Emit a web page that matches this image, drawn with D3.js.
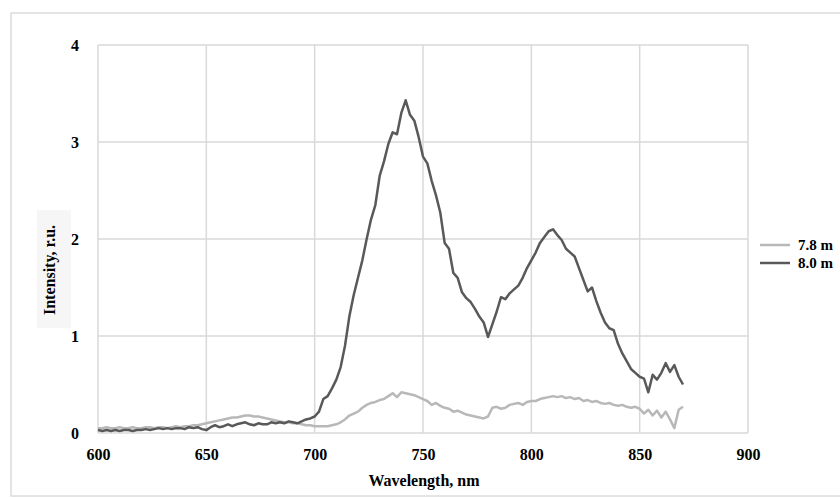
<!DOCTYPE html>
<html><head><meta charset="utf-8">
<script src="https://cdn.jsdelivr.net/npm/d3@7"></script>
<style>body{margin:0;background:#fff}svg{display:block}</style>
</head><body>
<svg id="c" width="840" height="498"></svg>
<script>
const wavelengths = d3.range(600, 871, 2);
const series78 = [0.05,0.05,0.06,0.05,0.05,0.06,0.05,0.05,0.06,0.05,0.05,0.06,0.06,0.05,0.06,0.06,0.05,0.06,0.07,0.06,0.07,0.07,0.08,0.08,0.09,0.10,0.11,0.12,0.13,0.14,0.15,0.16,0.16,0.17,0.18,0.18,0.17,0.17,0.16,0.15,0.14,0.13,0.12,0.11,0.11,0.10,0.10,0.09,0.08,0.08,0.07,0.07,0.07,0.07,0.08,0.09,0.11,0.14,0.18,0.20,0.22,0.26,0.29,0.31,0.32,0.34,0.35,0.38,0.41,0.37,0.42,0.41,0.40,0.39,0.37,0.35,0.33,0.29,0.31,0.28,0.26,0.25,0.22,0.23,0.21,0.19,0.18,0.17,0.16,0.15,0.17,0.26,0.27,0.25,0.26,0.29,0.30,0.31,0.29,0.32,0.33,0.33,0.35,0.36,0.37,0.38,0.37,0.38,0.36,0.37,0.35,0.36,0.33,0.34,0.32,0.33,0.31,0.30,0.31,0.29,0.28,0.29,0.27,0.26,0.27,0.25,0.20,0.24,0.18,0.23,0.16,0.22,0.14,0.05,0.24,0.27];
const series80 = [0.03,0.02,0.03,0.02,0.03,0.02,0.03,0.03,0.02,0.03,0.03,0.04,0.03,0.04,0.05,0.04,0.05,0.04,0.05,0.05,0.04,0.06,0.05,0.06,0.04,0.03,0.06,0.08,0.06,0.07,0.09,0.07,0.09,0.10,0.11,0.09,0.08,0.10,0.09,0.09,0.11,0.10,0.11,0.10,0.12,0.11,0.10,0.12,0.14,0.15,0.17,0.22,0.35,0.38,0.46,0.55,0.68,0.90,1.20,1.42,1.60,1.78,2.00,2.20,2.35,2.65,2.80,2.98,3.10,3.08,3.30,3.43,3.28,3.22,3.05,2.85,2.78,2.60,2.45,2.27,1.96,1.90,1.65,1.60,1.45,1.39,1.35,1.28,1.20,1.14,0.99,1.12,1.25,1.40,1.38,1.44,1.48,1.52,1.60,1.70,1.78,1.86,1.96,2.02,2.08,2.10,2.04,1.99,1.90,1.86,1.82,1.70,1.58,1.46,1.50,1.36,1.24,1.14,1.08,1.06,0.92,0.82,0.74,0.66,0.62,0.58,0.56,0.42,0.60,0.55,0.62,0.72,0.63,0.70,0.58,0.50];
const xTicks = [600,650,700,750,800,850,900];
const yTicks = [0,1,2,3,4];
const seriesNames = ["7.8 m","8.0 m"];
const seriesColors = ["#b8b8b8","#595959"];

const svg = d3.select("#c");
const FONT = "'Liberation Serif','Times New Roman',serif";
const L = 98, R = 748, T = 45, B = 433;
const x = d3.scaleLinear().domain([600,900]).range([L,R]);
const y = d3.scaleLinear().domain([0,4]).range([B,T]);

// outer frame
svg.append("rect").attr("x",11).attr("y",13).attr("width",850).attr("height",483)
  .attr("fill","none").attr("stroke","#dcdcdc").attr("stroke-width",1.5);

// grid
const grid = svg.append("g");
grid.selectAll("line.v").data(xTicks).join("line").attr("class","v")
  .attr("x1",d=>x(d)).attr("x2",d=>x(d)).attr("y1",T).attr("y2",B)
  .attr("stroke","#d9d9d9").attr("stroke-width",1.5);
grid.selectAll("line.h").data(yTicks).join("line").attr("class","h")
  .attr("x1",L).attr("x2",R).attr("y1",d=>y(d)).attr("y2",d=>y(d))
  .attr("stroke","#d9d9d9").attr("stroke-width",1.5);

// axes (labels only)
const xAxis = svg.append("g").attr("transform",`translate(0,${B+24})`)
  .call(d3.axisBottom(x).tickValues(xTicks).tickSize(0).tickFormat(d3.format("d")));
xAxis.select(".domain").remove();
xAxis.selectAll("text").attr("font-family",FONT).attr("font-weight","bold").attr("font-size",16).attr("fill","#000").attr("dy","0");
const yAxis = svg.append("g").attr("transform",`translate(${L-16},0)`)
  .call(d3.axisLeft(y).tickValues(yTicks).tickSize(0).tickFormat(d3.format("d")));
yAxis.select(".domain").remove();
yAxis.selectAll("text").attr("font-family",FONT).attr("font-weight","bold").attr("font-size",16).attr("fill","#000");

// axis titles
svg.append("text").attr("x",424).attr("y",486).attr("text-anchor","middle")
  .attr("font-family",FONT).attr("font-weight","bold").attr("font-size",16).text("Wavelength, nm");
svg.append("rect").attr("x",37).attr("y",210).attr("width",34).attr("height",118).attr("fill","#f6f6f6");
svg.append("text").attr("transform","translate(55,270) rotate(-90)").attr("text-anchor","middle")
  .attr("font-family",FONT).attr("font-weight","bold").attr("font-size",16).text("Intensity, r.u.");

// lines
const line = d3.line().x((d,i)=>x(wavelengths[i])).y(d=>y(d));
[series78, series80].forEach((s,k)=>{
  svg.append("path").datum(s).attr("d",line).attr("fill","none")
    .attr("stroke",seriesColors[k]).attr("stroke-width",2.5).attr("stroke-linejoin","round");
});

// legend
const lg = svg.append("g");
seriesNames.forEach((n,k)=>{
  const yy = 245 + k*18;
  lg.append("line").attr("x1",760).attr("x2",790).attr("y1",yy).attr("y2",yy)
    .attr("stroke",seriesColors[k]).attr("stroke-width",2.5);
  lg.append("text").attr("x",798).attr("y",yy+5).attr("font-family",FONT)
    .attr("font-weight","bold").attr("font-size",15).text(n);
});
</script>
</body></html>
